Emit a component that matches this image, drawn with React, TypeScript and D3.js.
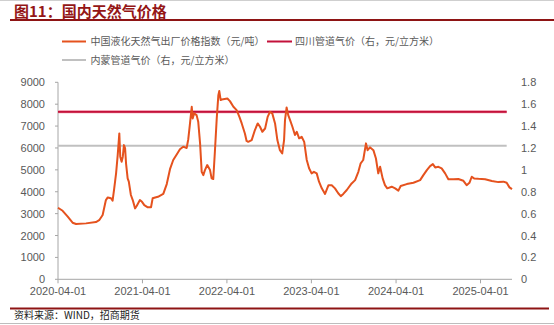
import React from "react";
import * as d3 from "d3";

const lngDates: string[] = [
  "2020-04-01","2020-04-21","2020-05-13","2020-06-03","2020-06-18","2020-07-31","2020-09-12","2020-09-26","2020-10-11","2020-10-25",
  "2020-11-02","2020-11-16","2020-11-23","2020-11-30","2020-12-08","2020-12-15","2020-12-22","2020-12-26","2021-01-01","2021-01-06",
  "2021-01-11","2021-01-16","2021-01-20","2021-01-27","2021-02-01","2021-02-10","2021-02-18","2021-02-28","2021-03-07","2021-03-21",
  "2021-03-30","2021-04-09","2021-04-24","2021-05-08","2021-05-15","2021-05-26","2021-06-07","2021-06-30","2021-07-15","2021-07-29",
  "2021-08-12","2021-08-27","2021-09-10","2021-09-24","2021-10-09","2021-10-16","2021-10-23","2021-10-31","2021-11-04","2021-11-10",
  "2021-11-21","2021-11-28","2021-12-06","2021-12-13","2021-12-20","2021-12-27","2022-01-06","2022-01-18","2022-01-25","2022-02-01",
  "2022-02-08","2022-02-16","2022-02-23","2022-02-27","2022-03-05","2022-03-16","2022-04-03","2022-04-14","2022-04-29","2022-05-13",
  "2022-05-25","2022-06-04","2022-06-18","2022-06-25","2022-07-02","2022-07-17","2022-07-31","2022-08-12","2022-08-22","2022-09-01",
  "2022-09-13","2022-09-24","2022-10-04","2022-10-14","2022-10-26","2022-11-05","2022-11-16","2022-11-26","2022-12-04","2022-12-08",
  "2022-12-15","2022-12-22","2022-12-30","2023-01-09","2023-01-20","2023-01-28","2023-02-07","2023-02-18","2023-03-01","2023-03-12",
  "2023-03-22","2023-04-02","2023-04-12","2023-04-24","2023-05-04","2023-05-16","2023-05-30","2023-06-14","2023-06-28","2023-07-12",
  "2023-07-26","2023-08-06","2023-08-17","2023-09-01","2023-09-22","2023-10-07","2023-10-21","2023-10-31","2023-11-11","2023-11-23",
  "2023-11-30","2023-12-10","2023-12-25","2024-01-05","2024-01-15","2024-01-23","2024-02-03","2024-02-13","2024-02-23","2024-03-13",
  "2024-03-28","2024-04-11","2024-04-21","2024-05-17","2024-06-15","2024-07-14","2024-07-28","2024-08-12","2024-08-26","2024-09-07",
  "2024-09-17","2024-10-01","2024-10-15","2024-10-30","2024-11-13","2024-12-05","2024-12-26","2025-01-17","2025-01-31","2025-02-12",
  "2025-02-22","2025-03-04","2025-03-23","2025-04-21","2025-05-20","2025-06-17","2025-07-09","2025-07-23","2025-08-04","2025-08-15",
];

const lngValues: number[] = [
  3270,3130,2860,2585,2525,2555,2615,2700,2935,3620,
  3740,3700,3590,4155,4840,5675,6665,5600,5370,5600,
  6130,5980,5300,4610,4460,3850,3620,3240,3350,3620,
  3540,3390,3290,3290,3700,3740,3770,3900,4350,5030,
  5450,5700,5940,6060,6000,6400,7080,7880,7350,7580,
  7500,7200,6210,4910,4760,4990,5220,4990,4610,4580,
  5830,7350,8415,8600,8190,8230,8260,8140,7880,7730,
  7420,7120,6650,6320,6280,6360,6820,7120,6970,6740,
  6890,7420,7650,7580,7120,6360,5900,5750,6360,7270,
  7850,7500,7270,6970,6590,6740,6440,6510,6280,5450,
  5070,4840,4910,4840,4460,4155,3900,4300,4300,4155,
  3930,3800,3900,4080,4380,4530,4910,5300,5450,6210,
  5900,6030,5900,5520,4840,5140,4610,4300,4155,4230,
  4155,4050,4260,4350,4410,4530,4760,4990,5170,5260,
  5110,5140,5070,4840,4570,4570,4580,4500,4300,4410,
  4685,4610,4590,4570,4490,4440,4460,4410,4200,4120,
];

const pipeDates: string[] = ["2020-04-01", "2025-07-23"];
const sichuanValues: number[] = [1.53, 1.53];
const innerMongoliaValues: number[] = [1.22, 1.22];

const leftTicks: number[] = [0, 1000, 2000, 3000, 4000, 5000, 6000, 7000, 8000, 9000];
const rightTicks: number[] = [0, 0.2, 0.4, 0.6, 0.8, 1, 1.2, 1.4, 1.6, 1.8];
const xTickLabels: string[] = ["2020-04-01", "2021-04-01", "2022-04-01", "2023-04-01", "2024-04-01", "2025-04-01"];

const seriesNames = {
  lng: "中国液化天然气出厂价格指数（元/吨）",
  sichuan: "四川管道气价（右，元/立方米）",
  nm: "内蒙管道气价（右，元/立方米）",
};

const W = 554, H = 325;
const plot = { left: 58, right: 512, top: 82.3, bottom: 279.3 };
const ORANGE = "#E5521E";
const CRIMSON = "#C3113A";
const GRAY = "#C0C0C0";
const TXT = "#595959";
const LATIN = "'Liberation Sans', Arial, sans-serif";
const CJK = "'Noto Sans CJK SC', sans-serif";

export default function App() {
  const parse = d3.timeParse("%Y-%m-%d");
  const x = d3.scaleTime()
    .domain([parse("2020-04-01")!, parse("2025-08-15")!])
    .range([plot.left, plot.right]);
  const yL = d3.scaleLinear().domain([0, 9000]).range([plot.bottom, plot.top]);
  const yR = d3.scaleLinear().domain([0, 1.8]).range([plot.bottom, plot.top]);

  const lngData = lngDates.map((d, i) => ({ d: parse(d)!, v: lngValues[i] }));
  const lineL = d3.line<{ d: Date; v: number }>().x(p => x(p.d)).y(p => yL(p.v));
  const lineR = d3.line<{ d: Date; v: number }>().x(p => x(p.d)).y(p => yR(p.v));
  const sc = pipeDates.map((d, i) => ({ d: parse(d)!, v: sichuanValues[i] }));
  const nm = pipeDates.map((d, i) => ({ d: parse(d)!, v: innerMongoliaValues[i] }));

  return (
    <svg width={W} height={H} style={{ position: "absolute", left: 0, top: 0, background: "#fff" }}>
      <rect x={0} y={0} width={W} height={H} fill="#fff" />
      <line x1={0} x2={W} y1={0.5} y2={0.5} stroke="#cfcfcf" strokeWidth={1} />
      {/* title */}
      <text x={14} y={17} fontFamily={CJK} fontWeight={700} fontSize={15} fill="#941616">图11：国内天然气价格</text>
      <line x1={10} x2={W} y1={20} y2={20} stroke="#8E1414" strokeWidth={2} />

      {/* legend */}
      <g fontFamily={CJK} fontSize={10} fill={TXT}>
        <line x1={62} x2={86} y1={41.5} y2={41.5} stroke={ORANGE} strokeWidth={2} />
        <text x={90.5} y={45}>{seriesNames.lng}</text>
        <line x1={267} x2={292} y1={41.5} y2={41.5} stroke={CRIMSON} strokeWidth={2} />
        <text x={295} y={45}>{seriesNames.sichuan}</text>
        <line x1={62} x2={86} y1={60} y2={60} stroke={GRAY} strokeWidth={2} />
        <text x={90.5} y={63.5}>{seriesNames.nm}</text>
      </g>

      {/* left axis */}
      <line x1={plot.left} x2={plot.left} y1={plot.top} y2={plot.bottom} stroke="#a6a6a6" strokeWidth={1} />
      {leftTicks.map(t => (
        <g key={"l" + t}>
          <line x1={plot.left - 3} x2={plot.left} y1={yL(t)} y2={yL(t)} stroke="#a6a6a6" />
          <text x={plot.left - 13} y={yL(t) + 4} textAnchor="end" fontFamily={LATIN} fontSize={11} fill={TXT}>{t}</text>
        </g>
      ))}
      {/* right axis labels */}
      {rightTicks.map(t => (
        <text key={"r" + t} x={521} y={yR(t) + 4} fontFamily={LATIN} fontSize={11} fill={TXT}>{d3.format("~g")(t)}</text>
      ))}
      {/* x axis */}
      <line x1={plot.left} x2={plot.right} y1={plot.bottom} y2={plot.bottom} stroke="#a6a6a6" strokeWidth={1} />
      {xTickLabels.map(s => {
        const px = x(parse(s)!);
        return (
          <g key={s}>
            <line x1={px} x2={px} y1={plot.bottom} y2={plot.bottom + 4} stroke="#a6a6a6" />
            <text x={px} y={plot.bottom + 16} textAnchor="middle" fontFamily={LATIN} fontSize={11} fill={TXT}>{s}</text>
          </g>
        );
      })}

      {/* series */}
      <path d={lineR(nm)!} stroke={GRAY} strokeWidth={2} fill="none" />
      <path d={lineR(sc)!} stroke="#F08AA0" strokeWidth={3} fill="none" />
      <path d={lineR(sc)!} stroke={CRIMSON} strokeWidth={1.8} fill="none" />
      <path d={lineL(lngData)!} stroke={ORANGE} strokeWidth={2} fill="none" strokeLinejoin="round" />

      {/* footer */}
      <line x1={10} x2={549} y1={308.5} y2={308.5} stroke="#8E1414" strokeWidth={2} />
      <text x={14} y={319} fontFamily={CJK} fontSize={10} fill="#222">资料来源：WIND，招商期货</text>
      <line x1={0} x2={W} y1={323.5} y2={323.5} stroke="#bdbdbd" strokeWidth={1} />
    </svg>
  );
}
